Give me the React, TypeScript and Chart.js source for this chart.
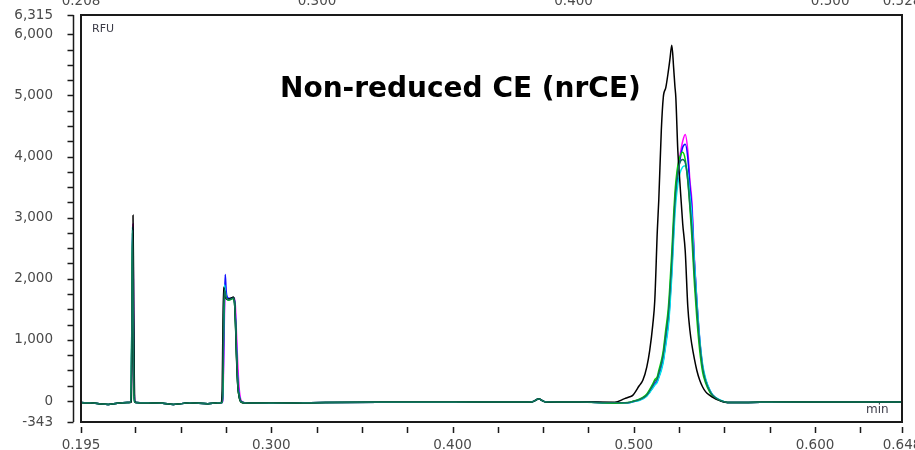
import React, { useEffect, useRef } from 'react';
import { Chart, registerables } from 'chart.js';

Chart.register(...registerables);

// ---- time grid (minutes), by region ----
const T_BASE1 = [0.195, 0.2, 0.205, 0.21, 0.215];
const T_P1 = [0.2205, 0.2223, 0.2227, 0.2231, 0.2234, 0.2237, 0.224, 0.2243, 0.2247, 0.2253];
const T_BASE2 = [0.232, 0.24, 0.246, 0.255, 0.265];
const T_P2 = [0.2705, 0.2723, 0.2729, 0.2733, 0.2737, 0.2742, 0.2746, 0.2751, 0.2757, 0.2765, 0.2775, 0.2783, 0.279, 0.2796, 0.2802, 0.2808, 0.2815, 0.2823, 0.2835, 0.2855];
const T_BASE3 = [0.3, 0.33, 0.36, 0.4, 0.43, 0.444, 0.4475, 0.451, 0.47];
const T_MAIN = [0.4895, 0.495, 0.4978, 0.4994, 0.503, 0.505, 0.5072, 0.5088, 0.5105, 0.5116, 0.513, 0.5138, 0.5152, 0.5163, 0.5177, 0.519, 0.5199, 0.521, 0.522, 0.5227, 0.5232, 0.5243, 0.5254, 0.527, 0.5284, 0.5298, 0.531, 0.532, 0.5335, 0.5348, 0.5364, 0.538, 0.5397, 0.542, 0.5436, 0.547, 0.5503, 0.553];
const T_BASE4 = [0.57, 0.6, 0.625, 0.648];

// ---- shared baseline (RFU) ----
const B1 = [-25, -30, -45, -55, -35];
const B2 = [-30, -35, -55, -30, -45];
const B3 = [-35, -25, -20, -20, -15, -10, 35, -10, -15];
const B4 = [-20, -15, -15, -15];

// ---- peak values (RFU) per trace ----
const BLACK_P1 = [-25, -22, -10, 700, 2000, 3040, 2000, 700, -10, -25];
const BLACK_P2 = [-30, -25, 200, 1200, 1860, 1780, 1700, 1680, 1660, 1670, 1680, 1690, 1700, 1650, 1300, 700, 250, 60, -20, -30];
const BLACK_MAIN = [-20, 40, 70, 93, 250, 339, 560, 830, 1250, 1650, 2790, 3290, 4430, 4970, 5130, 5380, 5580, 5820, 5450, 5150, 4970, 4100, 3600, 2900, 2450, 1550, 1150, 930, 680, 500, 340, 230, 150, 93, 60, 10, -20, -25];

const MAGENTA_P1 = [-25, -20, 50, 1100, 2500, 2900, 1400, 300, -15, -25];
const MAGENTA_P2 = [-30, -30, -25, 50, 600, 1500, 1900, 1750, 1690, 1670, 1670, 1680, 1690, 1680, 1550, 1100, 600, 200, 0, -30];
const MAGENTA_MAIN = [-30, -30, -25, -10, 20, 45, 95, 150, 220, 270, 330, 390, 540, 700, 950, 1300, 1650, 2200, 2850, 3290, 3480, 3800, 4000, 4250, 4360, 4100, 3600, 3290, 2300, 1650, 1000, 560, 340, 170, 95, 20, -15, -25];

const BLUE_P1 = [-25, -20, 80, 1200, 2600, 2800, 1300, 250, -15, -25];
const BLUE_P2 = [-30, -30, -20, 100, 800, 1700, 2070, 1800, 1700, 1680, 1680, 1680, 1690, 1660, 1400, 900, 350, 100, -15, -30];
const BLUE_MAIN = [-30, -30, -25, -12, 15, 40, 90, 150, 225, 280, 330, 400, 530, 670, 980, 1260, 1600, 2150, 2780, 3200, 3400, 3720, 3930, 4150, 4200, 3980, 3500, 3180, 2250, 1620, 990, 560, 340, 170, 95, 20, -15, -25];

const CYAN_P1 = [-25, -20, 200, 1500, 2850, 2100, 800, 100, -20, -25];
const CYAN_P2 = [-30, -30, -10, 400, 1500, 1900, 1800, 1700, 1670, 1660, 1670, 1680, 1690, 1650, 1350, 800, 300, 80, -15, -30];
const CYAN_MAIN = [-30, -30, -28, -15, 10, 35, 80, 140, 210, 260, 310, 380, 500, 640, 920, 1200, 1520, 2050, 2650, 3050, 3250, 3550, 3720, 3830, 3850, 3700, 3350, 3050, 2250, 1650, 1020, 600, 360, 180, 100, 25, -15, -25];

const GREEN_P1 = [-25, -20, 150, 1350, 2750, 2000, 700, 60, -20, -25];
const GREEN_P2 = [-30, -30, -15, 300, 1300, 1800, 1750, 1680, 1660, 1650, 1660, 1670, 1680, 1640, 1300, 750, 250, 60, -20, -30];
const GREEN_MAIN = [-35, -30, -20, -5, 30, 60, 115, 190, 280, 350, 400, 500, 660, 830, 1180, 1500, 1880, 2450, 3050, 3400, 3580, 3850, 3990, 4070, 3950, 3600, 3150, 2700, 1900, 1350, 820, 470, 290, 140, 80, 15, -15, -25];

const TEAL_P1 = [-25, -20, 180, 1400, 2800, 2050, 750, 80, -20, -25];
const TEAL_P2 = [-30, -30, -12, 350, 1400, 1820, 1760, 1690, 1665, 1655, 1665, 1675, 1685, 1645, 1320, 770, 270, 70, -18, -30];
const TEAL_MAIN = [-30, -30, -22, -8, 22, 50, 100, 170, 255, 320, 370, 460, 610, 770, 1100, 1400, 1760, 2300, 2900, 3250, 3450, 3750, 3900, 3950, 3900, 3620, 3200, 2850, 2050, 1500, 930, 540, 320, 160, 90, 20, -15, -25];

// ---- axes ----
const X_MIN = 0.195;
const X_MAX = 0.648;
const X_TICKS = [0.195, 0.225, 0.25, 0.275, 0.3, 0.325, 0.35, 0.375, 0.4, 0.425, 0.45, 0.475, 0.5, 0.525, 0.55, 0.575, 0.6, 0.625, 0.648];
const X_LABELED = [0.195, 0.3, 0.4, 0.5, 0.6, 0.648];
const X2_MIN = 0.208;
const X2_MAX = 0.528;
const X2_TICKS = [0.208, 0.3, 0.4, 0.5, 0.528];
const Y_MIN = -343;
const Y_MAX = 6315;
const Y_TICKS = [-343, 0, 250, 500, 750, 1000, 1250, 1500, 1750, 2000, 2250, 2500, 2750, 3000, 3250, 3500, 3750, 4000, 4250, 4500, 4750, 5000, 5250, 5500, 5750, 6000, 6315];

const TITLE = 'Non-reduced CE (nrCE)';
const Y_UNIT = 'RFU';
const X_UNIT = 'min';

const TIMES = [...T_BASE1, ...T_P1, ...T_BASE2, ...T_P2, ...T_BASE3, ...T_MAIN, ...T_BASE4];

function trace(p1: number[], p2: number[], main: number[]) {
  const vals = [...B1, ...p1, ...B2, ...p2, ...B3, ...main, ...B4];
  return vals.map((v, i) => ({ x: TIMES[i], y: v }));
}

const SERIES = [
  { label: 'teal', color: '#12715c', data: trace(TEAL_P1, TEAL_P2, TEAL_MAIN) },
  { label: 'black', color: '#000000', data: trace(BLACK_P1, BLACK_P2, BLACK_MAIN) },
  { label: 'green', color: '#00d400', data: trace(GREEN_P1, GREEN_P2, GREEN_MAIN) },
  { label: 'cyan', color: '#00e8e8', data: trace(CYAN_P1, CYAN_P2, CYAN_MAIN) },
  { label: 'blue', color: '#1010ff', data: trace(BLUE_P1, BLUE_P2, BLUE_MAIN) },
  { label: 'magenta', color: '#ff00ff', data: trace(MAGENTA_P1, MAGENTA_P2, MAGENTA_MAIN) },
];

const TICK_FONT = { family: 'DejaVu Sans', size: 13.5 };
const TICK_COLOR = '#4a4a4a';

const fmt = (v: number) => Math.round(v).toLocaleString('en-US');

const axisDeco = {
  id: 'axisDeco',
  afterDraw(chart: any) {
    const { ctx, chartArea: a, scales } = chart;
    ctx.save();
    ctx.strokeStyle = '#1a1a1a';
    ctx.lineWidth = 2;
    ctx.strokeRect(a.left, a.top, a.right - a.left, a.bottom - a.top);
    // y axis line with ticks
    const yx = a.left - 7.5;
    ctx.lineWidth = 1.5;
    ctx.beginPath();
    ctx.moveTo(yx, a.top);
    ctx.lineTo(yx, a.bottom);
    scales.y.ticks.forEach((t: any) => {
      const py = Math.round(scales.y.getPixelForValue(t.value)) + 0.5;
      ctx.moveTo(yx - 6, py);
      ctx.lineTo(yx, py);
    });
    // x axis ticks
    scales.x.ticks.forEach((t: any) => {
      const px = Math.round(scales.x.getPixelForValue(t.value)) + 0.5;
      ctx.moveTo(px, a.bottom + 5);
      ctx.lineTo(px, a.bottom + 11);
    });
    ctx.stroke();
    // top (secondary) axis labels, positioned by the x2 scale
    ctx.fillStyle = TICK_COLOR;
    ctx.font = `${TICK_FONT.size}px "${TICK_FONT.family}"`;
    ctx.textAlign = 'center';
    ctx.textBaseline = 'alphabetic';
    X2_TICKS.forEach((v) => {
      ctx.fillText(v.toFixed(3), scales.x2.getPixelForValue(v), a.top - 10);
    });
    // unit labels
    ctx.fillStyle = '#3c3c48';
    ctx.textAlign = 'left';
    ctx.font = '11px "DejaVu Sans"';
    ctx.fillText(Y_UNIT, a.left + 11, a.top + 17);
    ctx.font = '12px "DejaVu Sans"';
    ctx.fillText(X_UNIT, a.right - 36, a.bottom - 9);
    ctx.restore();
  },
};

export default function App() {
  const ref = useRef<HTMLCanvasElement | null>(null);

  useEffect(() => {
    if (!ref.current) return;
    const chart = new Chart(ref.current, {
      type: 'line',
      data: {
        datasets: SERIES.map((s) => ({
          label: s.label,
          data: s.data,
          borderColor: s.color,
          backgroundColor: s.color,
          borderWidth: 1.5,
          pointRadius: 0,
          cubicInterpolationMode: 'monotone' as const,
          fill: false,
        })),
      },
      options: {
        responsive: false,
        maintainAspectRatio: false,
        animation: false,
        layout: { padding: { left: 0, right: 13, top: 0, bottom: 0 } },
        plugins: {
          legend: { display: false },
          tooltip: { enabled: false },
          title: { display: false },
        },
        scales: {
          x: {
            type: 'linear',
            position: 'bottom',
            min: X_MIN,
            max: X_MAX,
            grid: { display: false },
            border: { display: false },
            afterBuildTicks: (s: any) => {
              s.ticks = X_TICKS.map((v) => ({ value: v }));
            },
            afterFit: (s: any) => {
              s.height = 28;
              s.paddingLeft = 0;
              s.paddingRight = 0;
            },
            ticks: {
              autoSkip: false,
              maxRotation: 0,
              padding: 7.5,
              color: TICK_COLOR,
              font: TICK_FONT,
              callback: (v: any) => (X_LABELED.some((l) => Math.abs(l - v) < 1e-9) ? Number(v).toFixed(3) : ''),
            },
          },
          x2: {
            type: 'linear',
            position: 'top',
            display: true,
            min: X2_MIN,
            max: X2_MAX,
            grid: { display: false },
            border: { display: false },
            afterBuildTicks: (s: any) => {
              s.ticks = X2_TICKS.map((v) => ({ value: v }));
            },
            afterFit: (s: any) => {
              s.height = 27;
              s.paddingLeft = 0;
              s.paddingRight = 0;
            },
            ticks: { display: false },
          },
          y: {
            type: 'linear',
            position: 'left',
            min: Y_MIN,
            max: Y_MAX,
            grid: { display: false },
            border: { display: false },
            afterBuildTicks: (s: any) => {
              s.ticks = Y_TICKS.map((v) => ({ value: v }));
            },
            afterFit: (s: any) => {
              s.width = 81;
              s.paddingTop = 0;
              s.paddingBottom = 0;
            },
            ticks: {
              autoSkip: false,
              padding: 20,
              color: TICK_COLOR,
              font: TICK_FONT,
              callback: (v: any) => {
                const n = Number(v);
                if (n === Y_MIN || n === Y_MAX || n % 1000 === 0) return fmt(n);
                return '';
              },
            },
          },
        },
      } as any,
      plugins: [axisDeco],
    });
    return () => chart.destroy();
  }, []);

  return (
    <>
      <div style={{ position: 'absolute', left: 0, top: -12, width: 915, height: 462 }}>
        <canvas ref={ref} width={915} height={462} style={{ display: 'block', width: 915, height: 462 }} />
      </div>
      <div
        style={{
          position: 'absolute',
          left: 280,
          top: 74,
          fontFamily: '"DejaVu Sans", sans-serif',
          fontWeight: 700,
          fontSize: 28,
          lineHeight: '28px',
          color: '#000',
          whiteSpace: 'nowrap',
        }}
      >
        {TITLE}
      </div>
    </>
  );
}
